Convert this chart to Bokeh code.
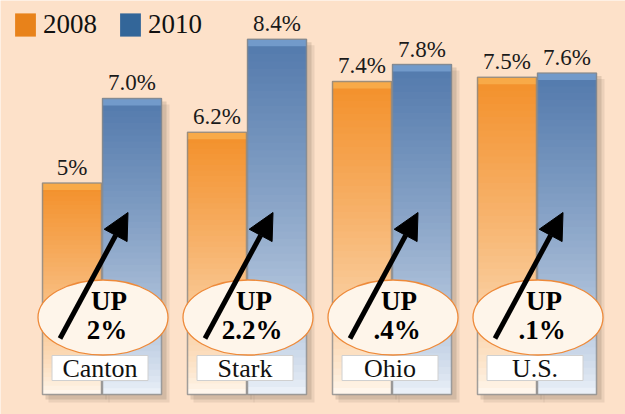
import numpy as np
from bokeh.plotting import figure
from bokeh.models import Range1d, ColumnDataSource, Arrow, NormalHead, Legend, LegendItem
from bokeh.core.properties import value
from bokeh.embed import file_html
from bokeh.resources import INLINE

# ---- data ----
places = ["Canton", "Stark", "Ohio", "U.S."]
rate_2008 = [5.0, 6.2, 7.4, 7.5]
rate_2010 = [7.0, 8.4, 7.8, 7.6]
label_2008 = ["5%", "6.2%", "7.4%", "7.5%"]
label_2010 = ["7.0%", "8.4%", "7.8%", "7.6%"]
change_labels = ["2%", "2.2%", ".4%", ".1%"]
series = ["2008", "2010"]

# ---- styling / layout ----
BG = "#FDE1C9"
W, H = 625, 414
PX_X = 145.0   # pixels per group unit
PX_Y = 42.3    # pixels per percentage point
X0 = 101.5     # pixel position of first group center
Y0 = 20.0      # pixel position of baseline from bottom


def dx(px):
    return px / PX_X


def dy(px):
    return px / PX_Y


def hex2rgb(h):
    h = h.lstrip("#")
    return [int(h[i:i + 2], 16) for i in (0, 2, 4)]


def lerp(c1, c2, t):
    a, b = hex2rgb(c1), hex2rgb(c2)
    return "#" + "".join("%02x" % int(round(a[i] + (b[i] - a[i]) * t)) for i in range(3))


p = figure(width=W, height=H, output_backend="svg", toolbar_location=None,
           x_range=Range1d(-X0 / PX_X, (W - X0) / PX_X),
           y_range=Range1d(-Y0 / PX_Y, (H - Y0) / PX_Y),
           x_axis_type=None, y_axis_type=None, min_border=0)
p.background_fill_color = BG
p.border_fill_color = BG
p.outline_line_color = None

BAR_W = dx(59)
OFF = dx(30)
N = 48
xs = np.arange(len(places))

specs = [
    (rate_2008, -OFF, "#F3902A", "#FFFAF4", "#F8AA48", "#E8821A"),
    (rate_2010, +OFF, "#5279AC", "#F0F5FB", "#729ACA", "#336699"),
]

# shadows
for vals, off, *_ in specs:
    for s, a in [(6, 0.12), (3, 0.18)]:
        p.quad(left=[x + off - BAR_W / 2 + dx(s) for x in xs],
               right=[x + off + BAR_W / 2 + dx(s + 2) for x in xs],
               bottom=[-dy(s + 2)] * len(xs),
               top=[v - dy(s) for v in vals],
               fill_color="#6b5a4a", fill_alpha=a, line_color=None)

legend_rs = []
for vals, off, top_c, bot_c, cap_c, leg_c in specs:
    L, R, B, T, C = [], [], [], [], []
    for k in range(N):
        frac = (k + 0.5) / N
        for i, v in enumerate(vals):
            xc = xs[i] + off
            L.append(xc - BAR_W / 2)
            R.append(xc + BAR_W / 2)
            B.append(v * k / N)
            T.append(v)
            C.append(lerp(bot_c, top_c, frac ** 0.7))
    p.quad(left=L, right=R, bottom=B, top=T, fill_color=C, line_color=None)
    # cap band
    p.quad(left=[x + off - BAR_W / 2 for x in xs], right=[x + off + BAR_W / 2 for x in xs],
           bottom=[v - dy(7) for v in vals], top=vals,
           fill_color=cap_c, line_color=None)
    # bevel edges
    p.quad(left=[x + off - BAR_W / 2 for x in xs], right=[x + off + BAR_W / 2 for x in xs],
           bottom=[0] * len(xs), top=vals,
           fill_color=None, line_color="#8a8a8a", line_width=1.5, line_alpha=0.8)
    # legend swatch (kept outside the visible area)
    legend_rs.append(p.quad(left=[-50], right=[-49], bottom=[-50], top=[-49],
                            fill_color=leg_c, line_color=None))

# value labels
p.text(x=[x - OFF for x in xs], y=[v + dy(3) for v in rate_2008], text=label_2008,
       text_font=value("Liberation Serif"), text_font_size="23px", text_color="#1a1a1a",
       text_align="center", text_baseline="bottom")
p.text(x=[x + OFF for x in xs], y=[v + dy(3) for v in rate_2010], text=label_2010,
       text_font=value("Liberation Serif"), text_font_size="23px", text_color="#1a1a1a",
       text_align="center", text_baseline="bottom")

# place labels
p.rect(x=[x - dx(2) for x in xs], y=[dy(26.5)] * len(xs), width=dx(96), height=dy(25),
       fill_color="white", line_color="#d0d0d0", line_width=1)
p.text(x=[x - dx(2) for x in xs], y=[dy(26.5)] * len(xs), text=places,
       text_font=value("Liberation Serif"), text_font_size="26px", text_color="#111111",
       text_align="center", text_baseline="middle")

# ellipses
p.ellipse(x=[x + dx(1) for x in xs], y=[dy(77)] * len(xs), width=dx(130), height=dy(75),
          fill_color="#FEF5EA", line_color="#EE8A3A", line_width=1.3)

# arrows
arr_src = ColumnDataSource(dict(
    x0=[x - dx(42) for x in xs], y0=[dy(56)] * len(xs),
    x1=[x + dx(26) for x in xs], y1=[dy(182)] * len(xs)))
p.add_layout(Arrow(end=NormalHead(size=26, fill_color="black", line_color="black"),
                   x_start="x0", y_start="y0", x_end="x1", y_end="y1", source=arr_src,
                   line_width=5, line_color="black"))

# "UP" text
p.text(x=[x + dx(7) for x in xs], y=[dy(94)] * len(xs), text=["UP"] * len(xs),
       text_font=value("Liberation Serif"), text_font_style="bold", text_font_size="27px",
       text_color="black", text_align="center", text_baseline="middle")
p.text(x=[x + dx(5) for x in xs], y=[dy(65)] * len(xs), text=change_labels,
       text_font=value("Liberation Serif"), text_font_style="bold", text_font_size="27px",
       text_color="black", text_align="center", text_baseline="middle")

legend = Legend(items=[LegendItem(label=series[0], renderers=[legend_rs[0]]),
                       LegendItem(label=series[1], renderers=[legend_rs[1]])],
                orientation="horizontal", location="top_left",
                background_fill_alpha=0, border_line_alpha=0,
                glyph_width=26, glyph_height=29, label_standoff=5, spacing=20,
                margin=0, padding=0,
                label_text_font="Liberation Serif", label_text_font_size="27px",
                label_text_color="#111111")
legend.location = (12, H - 40)
p.add_layout(legend)

open("out.html", "w").write(file_html(p, INLINE))
